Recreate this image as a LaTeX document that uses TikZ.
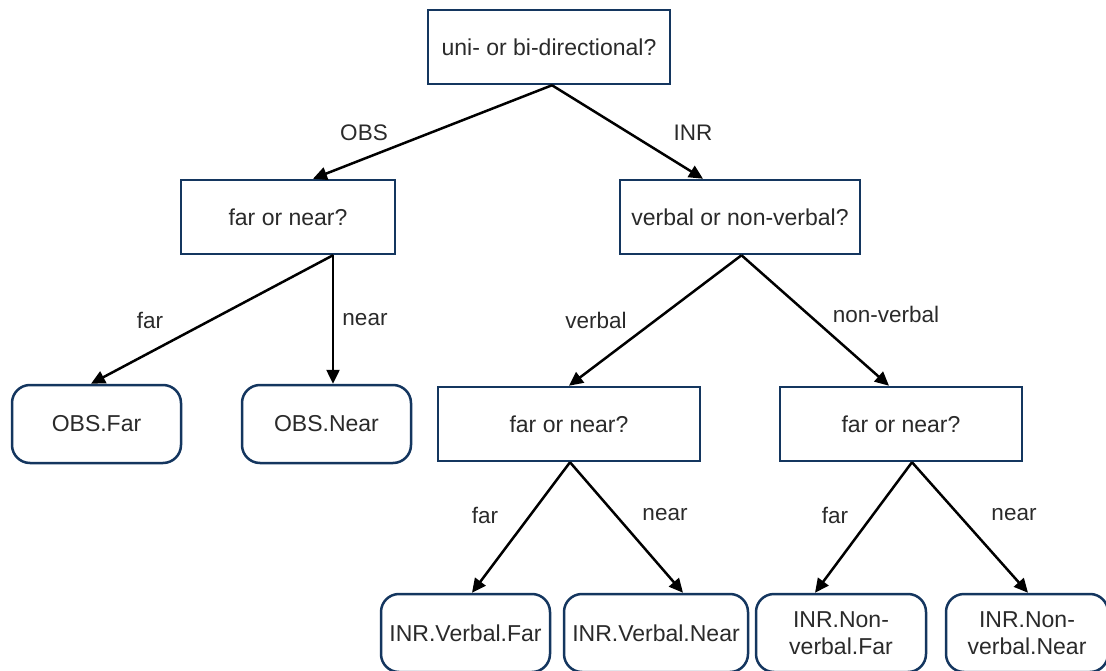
\documentclass[tikz,border=0pt]{standalone}
\usepackage{fontspec}
\setmainfont{Liberation Sans}
\usetikzlibrary{arrows.meta}
\definecolor{boxc}{HTML}{14365F}
\definecolor{txt}{HTML}{2A2A2A}
\tikzset{
  qbox/.style={draw=boxc, line width=2.5pt, fill=white, inner sep=0pt, minimum height=74pt, text=txt, font=\fontsize{23}{27}\selectfont},
  leaf/.style={draw=boxc, line width=2.5pt, fill=white, rounded corners=18pt, inner sep=0pt, minimum height=78pt, text=txt, font=\fontsize{23}{27}\selectfont, align=center},
  conn/.style={line width=2.5pt, -{Triangle[length=14pt,width=13pt]}},
  lab/.style={text=txt, font=\fontsize{22.5}{27}\selectfont}
}
\begin{document}
\begin{tikzpicture}[x=1pt,y=-1pt]
\useasboundingbox (0,0) rectangle (1106,671);
% question boxes
\node[qbox, minimum width=242pt] (top) at (549,47) {uni- or bi-directional?};
\node[qbox, minimum width=214pt] (fnL) at (288,217) {far or near?};
\node[qbox, minimum width=240pt] (vnv) at (740,217) {verbal or non-verbal?};
\node[qbox, minimum width=262pt] (fnM) at (569,424) {far or near?};
\node[qbox, minimum width=242pt] (fnR) at (901,424) {far or near?};
% leaves
\node[leaf, minimum width=169pt] (obsfar) at (96.5,424) {OBS.Far};
\node[leaf, minimum width=169pt] (obsnear) at (326.5,424) {OBS.Near};
\node[leaf, minimum width=169pt] (vf) at (465.5,633) {INR.Verbal.Far};
\node[leaf, minimum width=184pt] (vn) at (656,633) {INR.Verbal.Near};
\node[leaf, minimum width=170pt] (nvf) at (841,633) {INR.Non-\\verbal.Far};
\node[leaf, minimum width=162pt] (nvn) at (1027,633) {INR.Non-\\verbal.Near};
% connectors
\draw[conn] ([xshift=3pt]top.south) -- ([xshift=25pt]fnL.north);
\draw[conn] ([xshift=3pt]top.south) -- ([xshift=-37pt]vnv.north);
\draw[conn] ([xshift=45pt]fnL.south) -- ([xshift=-5.5pt]obsfar.north);
\draw[conn] ([xshift=45pt]fnL.south) -- ([xshift=6.5pt]obsnear.north);
\draw[conn] ([xshift=1.5pt]vnv.south) -- (fnM.north);
\draw[conn] ([xshift=1.5pt]vnv.south) -- ([xshift=-12pt]fnR.north);
\draw[conn] ([xshift=1pt]fnM.south) -- ([xshift=6.5pt]vf.north);
\draw[conn] ([xshift=1pt]fnM.south) -- ([xshift=27pt]vn.north);
\draw[conn] ([xshift=11pt]fnR.south) -- ([xshift=-26pt]nvf.north);
\draw[conn] ([xshift=11pt]fnR.south) -- ([xshift=1pt]nvn.north);
% labels
\node[lab] (lobs) at (364,133) {OBS};
\node[lab] (linr) at (693,133) {INR};
\node[lab] (lfar1) at (150,320) {far};
\node[lab] (lnear1) at (365,320) {near};
\node[lab] (lverb) at (596,320) {verbal};
\node[lab] (lnonv) at (886,314) {non-verbal};
\node[lab] (lfar2) at (485,515) {far};
\node[lab] (lnear2) at (665,515) {near};
\node[lab] (lfar3) at (835,515) {far};
\node[lab] (lnear3) at (1014,515) {near};
\end{tikzpicture}
\end{document}
